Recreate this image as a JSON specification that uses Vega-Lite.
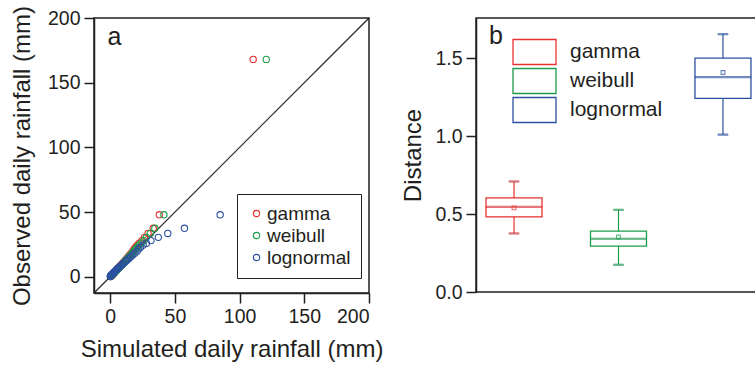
{
  "$schema": "https://vega.github.io/schema/vega-lite/v6.json",
  "padding": {"left": 9, "top": 4, "right": 0, "bottom": 0},
  "background": "white",
  "config": {
    "font": "Liberation Sans",
    "view": {"stroke": "#231f20", "strokeWidth": 1.5},
    "axis": {
      "domainColor": "#231f20", "domainWidth": 1.5,
      "tickColor": "#231f20", "tickWidth": 1.5, "tickSize": 10,
      "labelColor": "#231f20", "labelFont": "Liberation Sans", "labelFontSize": 19.5, "labelPadding": 4,
      "titleFont": "Liberation Sans", "titleFontSize": 24, "titleFontWeight": "normal", "titleColor": "#231f20",
      "grid": false
    },
    "legend": {"labelFont": "Liberation Sans", "labelColor": "#231f20", "titleFontSize": 0}
  },
  "resolve": {"scale": {"color": "independent", "stroke": "independent"}, "legend": {"color": "independent", "stroke": "independent"}},
  "spacing": 17,
  "hconcat": [
    {
      "width": 275,
      "height": 275,
      "layer": [
        {
          "data": {"values": [{"x1": -12.5, "y1": -12.5, "x2": 200, "y2": 200}]},
          "mark": {"type": "rule", "color": "#231f20", "strokeWidth": 1.2},
          "encoding": {
            "x": {"field": "x1", "type": "quantitative", "scale": {"domain": [-12.5, 200], "nice": false, "zero": false},
                  "axis": {"title": "Simulated daily rainfall (mm)", "values": [0, 50, 100, 150, 200], "labelPadding": 4, "titlePadding": 12}},
            "y": {"field": "y1", "type": "quantitative", "scale": {"domain": [-12.5, 200], "nice": false, "zero": false},
                  "axis": {"title": "Observed daily rainfall (mm)", "values": [0, 50, 100, 150, 200], "titlePadding": 13}},
            "x2": {"field": "x2"},
            "y2": {"field": "y2"}
          }
        },
        {
          "data": {"values": [
            {"dist": "gamma", "sim": 0.4, "obs": 0.2}, {"dist": "gamma", "sim": 0.9, "obs": 0.6}, {"dist": "gamma", "sim": 1.3, "obs": 1.0},
            {"dist": "gamma", "sim": 1.7, "obs": 1.5}, {"dist": "gamma", "sim": 2.2, "obs": 2.0}, {"dist": "gamma", "sim": 2.7, "obs": 2.6},
            {"dist": "gamma", "sim": 3.2, "obs": 3.2}, {"dist": "gamma", "sim": 3.8, "obs": 3.9}, {"dist": "gamma", "sim": 4.4, "obs": 4.6},
            {"dist": "gamma", "sim": 5.1, "obs": 5.4}, {"dist": "gamma", "sim": 5.8, "obs": 6.2}, {"dist": "gamma", "sim": 6.5, "obs": 7.0},
            {"dist": "gamma", "sim": 7.3, "obs": 7.9}, {"dist": "gamma", "sim": 8.1, "obs": 8.8}, {"dist": "gamma", "sim": 9.0, "obs": 9.8},
            {"dist": "gamma", "sim": 9.9, "obs": 10.8}, {"dist": "gamma", "sim": 10.9, "obs": 11.9}, {"dist": "gamma", "sim": 11.9, "obs": 13.0},
            {"dist": "gamma", "sim": 12.9, "obs": 14.2}, {"dist": "gamma", "sim": 14.0, "obs": 15.5}, {"dist": "gamma", "sim": 15.1, "obs": 16.8},
            {"dist": "gamma", "sim": 16.3, "obs": 18.2}, {"dist": "gamma", "sim": 17.5, "obs": 19.7}, {"dist": "gamma", "sim": 18.5, "obs": 21.5},
            {"dist": "gamma", "sim": 19.7, "obs": 22.8}, {"dist": "gamma", "sim": 21.0, "obs": 24.5}, {"dist": "gamma", "sim": 22.5, "obs": 26.0},
            {"dist": "gamma", "sim": 24.5, "obs": 28.0}, {"dist": "gamma", "sim": 26.5, "obs": 30.5}, {"dist": "gamma", "sim": 29.3, "obs": 33.5},
            {"dist": "gamma", "sim": 33.3, "obs": 37.5}, {"dist": "gamma", "sim": 38.0, "obs": 47.9}, {"dist": "gamma", "sim": 110.5, "obs": 168.0},
            {"dist": "weibull", "sim": 0.2, "obs": 0.2}, {"dist": "weibull", "sim": 0.7, "obs": 0.6}, {"dist": "weibull", "sim": 1.1, "obs": 1.0},
            {"dist": "weibull", "sim": 1.6, "obs": 1.5}, {"dist": "weibull", "sim": 2.1, "obs": 2.0}, {"dist": "weibull", "sim": 2.7, "obs": 2.6},
            {"dist": "weibull", "sim": 3.3, "obs": 3.2}, {"dist": "weibull", "sim": 3.9, "obs": 3.9}, {"dist": "weibull", "sim": 4.6, "obs": 4.6},
            {"dist": "weibull", "sim": 5.3, "obs": 5.4}, {"dist": "weibull", "sim": 6.1, "obs": 6.2}, {"dist": "weibull", "sim": 6.8, "obs": 7.0},
            {"dist": "weibull", "sim": 7.6, "obs": 7.9}, {"dist": "weibull", "sim": 8.5, "obs": 8.8}, {"dist": "weibull", "sim": 9.4, "obs": 9.8},
            {"dist": "weibull", "sim": 10.3, "obs": 10.8}, {"dist": "weibull", "sim": 11.3, "obs": 11.9}, {"dist": "weibull", "sim": 12.3, "obs": 13.0},
            {"dist": "weibull", "sim": 13.4, "obs": 14.2}, {"dist": "weibull", "sim": 14.6, "obs": 15.5}, {"dist": "weibull", "sim": 15.8, "obs": 16.8},
            {"dist": "weibull", "sim": 17.0, "obs": 18.2}, {"dist": "weibull", "sim": 18.3, "obs": 19.7}, {"dist": "weibull", "sim": 19.7, "obs": 21.5},
            {"dist": "weibull", "sim": 21.0, "obs": 22.8}, {"dist": "weibull", "sim": 22.3, "obs": 24.5}, {"dist": "weibull", "sim": 24.0, "obs": 26.0},
            {"dist": "weibull", "sim": 26.0, "obs": 28.0}, {"dist": "weibull", "sim": 28.0, "obs": 30.5}, {"dist": "weibull", "sim": 31.0, "obs": 33.5},
            {"dist": "weibull", "sim": 34.5, "obs": 37.5}, {"dist": "weibull", "sim": 41.5, "obs": 47.9}, {"dist": "weibull", "sim": 120.6, "obs": 168.0},
            {"dist": "lognormal", "sim": 0.1, "obs": 0.2}, {"dist": "lognormal", "sim": 0.3, "obs": 0.6}, {"dist": "lognormal", "sim": 0.6, "obs": 1.0},
            {"dist": "lognormal", "sim": 1.0, "obs": 1.5}, {"dist": "lognormal", "sim": 1.5, "obs": 2.0}, {"dist": "lognormal", "sim": 2.1, "obs": 2.6},
            {"dist": "lognormal", "sim": 2.7, "obs": 3.2}, {"dist": "lognormal", "sim": 3.4, "obs": 3.9}, {"dist": "lognormal", "sim": 4.1, "obs": 4.6},
            {"dist": "lognormal", "sim": 4.9, "obs": 5.4}, {"dist": "lognormal", "sim": 5.7, "obs": 6.2}, {"dist": "lognormal", "sim": 6.6, "obs": 7.0},
            {"dist": "lognormal", "sim": 7.5, "obs": 7.9}, {"dist": "lognormal", "sim": 8.5, "obs": 8.8}, {"dist": "lognormal", "sim": 9.6, "obs": 9.8},
            {"dist": "lognormal", "sim": 10.7, "obs": 10.8}, {"dist": "lognormal", "sim": 11.9, "obs": 11.9}, {"dist": "lognormal", "sim": 13.1, "obs": 13.0},
            {"dist": "lognormal", "sim": 14.5, "obs": 14.2}, {"dist": "lognormal", "sim": 15.9, "obs": 15.5}, {"dist": "lognormal", "sim": 17.4, "obs": 16.8},
            {"dist": "lognormal", "sim": 19.0, "obs": 18.2}, {"dist": "lognormal", "sim": 20.8, "obs": 19.7}, {"dist": "lognormal", "sim": 22.0, "obs": 21.5},
            {"dist": "lognormal", "sim": 23.5, "obs": 22.8}, {"dist": "lognormal", "sim": 25.5, "obs": 24.5}, {"dist": "lognormal", "sim": 28.0, "obs": 26.0},
            {"dist": "lognormal", "sim": 31.5, "obs": 28.0}, {"dist": "lognormal", "sim": 37.2, "obs": 30.5}, {"dist": "lognormal", "sim": 44.5, "obs": 33.5},
            {"dist": "lognormal", "sim": 57.4, "obs": 37.5}, {"dist": "lognormal", "sim": 85.0, "obs": 47.9}
          ]},
          "mark": {"type": "point", "filled": false, "size": 40, "strokeWidth": 1.1, "opacity": 1},
          "encoding": {
            "x": {"field": "sim", "type": "quantitative"},
            "y": {"field": "obs", "type": "quantitative"},
            "color": {
              "field": "dist", "type": "nominal",
              "scale": {"domain": ["gamma", "weibull", "lognormal"], "range": ["#e8312f", "#1c9c4a", "#2c50a0"]},
              "legend": {
                "title": null, "orient": "none", "legendX": 143, "legendY": 176,
                "strokeColor": "#231f20", "padding": 10, "fillColor": "white",
                "symbolType": "circle", "symbolSize": 40, "symbolStrokeWidth": 1.1,
                "labelFontSize": 19, "labelOffset": 1, "rowPadding": 2
              }
            }
          }
        },
        {
          "data": {"values": [{"px": -2, "py": 179.5, "t": "a"}]},
          "mark": {"type": "text", "align": "left", "baseline": "alphabetic", "fontSize": 25, "color": "#231f20", "font": "Liberation Sans"},
          "encoding": {
            "x": {"field": "px", "type": "quantitative"},
            "y": {"field": "py", "type": "quantitative"},
            "text": {"field": "t"}
          }
        }
      ]
    },
    {
      "width": 285,
      "height": 274,
      "data": {"values": [
        {"dist": "gamma", "min": 0.376, "q1": 0.483, "median": 0.547, "q3": 0.605, "max": 0.71, "mean": 0.540},
        {"dist": "weibull", "min": 0.175, "q1": 0.295, "median": 0.342, "q3": 0.391, "max": 0.528, "mean": 0.353},
        {"dist": "lognormal", "min": 1.011, "q1": 1.244, "median": 1.38, "q3": 1.502, "max": 1.656, "mean": 1.41}
      ]},
      "encoding": {
        "x": {"field": "dist", "type": "nominal", "sort": ["gamma", "weibull", "lognormal"],
              "scale": {"paddingInner": 0.464, "paddingOuter": 0.096}, "axis": null},
        "stroke": {"field": "dist", "type": "nominal",
                   "scale": {"domain": ["gamma", "weibull", "lognormal"], "range": ["#e8312f", "#1c9c4a", "#2c50a0"]},
                   "legend": {
                     "title": null, "orient": "none", "legendX": 45, "legendY": 20.5, "padding": 0,
                     "symbolType": "M-1.72,-1H1.72V1H-1.72Z", "symbolSize": 625, "symbolStrokeWidth": 1.3,
                     "symbolFillColor": "white", "labelFontSize": 21, "labelOffset": 22, "rowPadding": -3,
                     "encode": {"symbols": {"update": {"fill": {"value": "white"}, "fillOpacity": {"value": 1}}}}
                   }}
      },
      "layer": [
        {
          "mark": {"type": "rule", "strokeWidth": 1.2},
          "encoding": {
            "y": {"field": "min", "type": "quantitative", "scale": {"domain": [0, 1.76], "nice": false},
                  "axis": {"title": "Distance", "values": [0, 0.25, 0.5, 0.75, 1, 1.25, 1.5, 1.75], "titlePadding": 9,
                           "labelExpr": "(datum.value * 4) % 2 == 0 ? format(datum.value, '.1f') : ''"}},
            "y2": {"field": "max"}
          }
        },
        {
          "mark": {"type": "tick", "size": 10, "thickness": 1.2, "orient": "horizontal"},
          "encoding": {"y": {"field": "min", "type": "quantitative"}}
        },
        {
          "mark": {"type": "tick", "size": 10, "thickness": 1.2, "orient": "horizontal"},
          "encoding": {"y": {"field": "max", "type": "quantitative"}}
        },
        {
          "mark": {"type": "bar", "fill": "white", "strokeWidth": 1.3},
          "encoding": {"y": {"field": "q1", "type": "quantitative"}, "y2": {"field": "q3"}}
        },
        {
          "mark": {"type": "tick", "thickness": 1.2, "orient": "horizontal"},
          "encoding": {"y": {"field": "median", "type": "quantitative"}}
        },
        {
          "mark": {"type": "point", "shape": "square", "size": 14, "filled": false, "strokeWidth": 1.1},
          "encoding": {"y": {"field": "mean", "type": "quantitative"}}
        },
        {
          "data": {"values": [{"t": "b", "py": 1.59}]},
          "mark": {"type": "text", "align": "left", "baseline": "alphabetic", "fontSize": 25, "dx": 3, "color": "#231f20", "font": "Liberation Sans"},
          "encoding": {
            "x": {"datum": "gamma", "type": "nominal", "bandPosition": 0},
            "y": {"field": "py", "type": "quantitative"},
            "text": {"field": "t"},
            "stroke": {"value": null}
          }
        }
      ]
    }
  ]
}
